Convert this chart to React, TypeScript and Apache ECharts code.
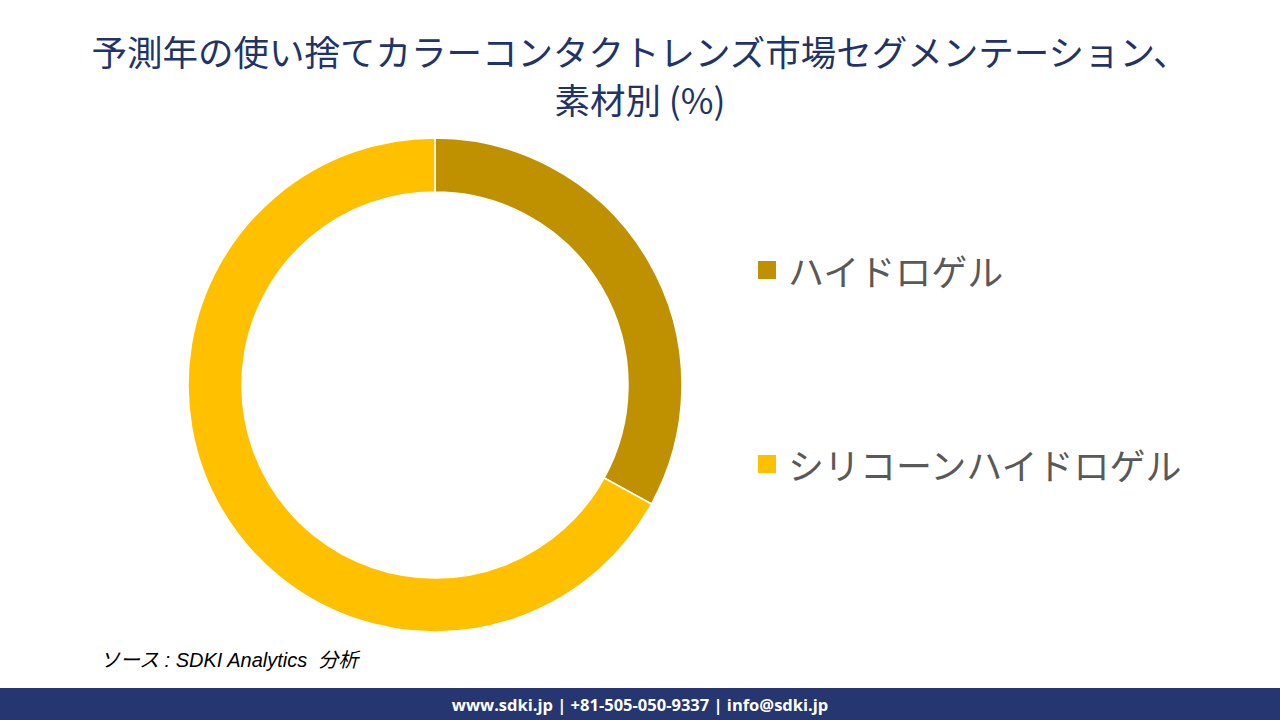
import React, { useEffect, useRef } from "react";
import * as echarts from "echarts";

const titleLines = ["予測年の使い捨てカラーコンタクトレンズ市場セグメンテーション、", "素材別 (%)"];
const categories = ["ハイドロゲル", "シリコーンハイドロゲル"];
const values = [33, 67];
const colors = ["#BF9000", "#FFC000"];
const sourceText = "ソース : SDKI Analytics  分析";
const footerText = "www.sdki.jp | +81-505-050-9337 | info@sdki.jp";

export default function App() {
  const ref = useRef<HTMLDivElement>(null);
  useEffect(() => {
    document.body.style.margin = "0";
    const chart = echarts.init(ref.current!, null, { renderer: "svg" });
    chart.setOption({
      animation: false,
      backgroundColor: "#ffffff",
      legend: {
        orient: "vertical",
        left: 756,
        top: 252,
        padding: 0,
        itemWidth: 20,
        itemHeight: 20,
        itemGap: 158,
        icon: "rect",
        data: categories,
        textStyle: {
          fontFamily: "Noto Sans CJK JP",
          fontSize: 36,
          color: "#595959",
          padding: [0, 0, 0, 6],
        },
      },
      series: [
        {
          type: "pie",
          center: [435, 385],
          radius: [193, 247],
          startAngle: 90,
          clockwise: true,
          label: { show: false },
          labelLine: { show: false },
          emphasis: { disabled: true },
          itemStyle: { borderColor: "#ffffff", borderWidth: 1.5 },
          data: categories.map((c, i) => ({
            name: c,
            value: values[i],
            itemStyle: { color: colors[i] },
          })),
        },
      ],
      graphic: [
        ...titleLines.map((t, i) => ({
          type: "text",
          x: 640,
          y: 50 + i * 48,
          style: {
            text: t,
            fontFamily: "Noto Sans CJK JP",
            fontSize: 35.5,
            fill: "#1F3468",
            textAlign: "center",
            textVerticalAlign: "middle",
          },
        })),
        {
          type: "text",
          left: 100,
          top: 650,
          style: {
            text: sourceText,
            fontFamily: "Liberation Sans, Noto Sans CJK JP",
            fontStyle: "italic",
            fontSize: 20,
            fill: "#000000",
          },
        },
        {
          type: "rect",
          shape: { x: 0, y: 688, width: 1280, height: 32 },
          style: { fill: "#253670" },
        },
        {
          type: "text",
          x: 640,
          y: 704,
          style: {
            text: footerText,
            fontFamily: "Open Sans, Noto Sans",
            fontWeight: "bold",
            fontSize: 16.5,
            fill: "#ffffff",
            textAlign: "center",
            textVerticalAlign: "middle",
          },
        },
      ],
    });
    return () => chart.dispose();
  }, []);
  return <div ref={ref} style={{ width: 1280, height: 720 }} />;
}
